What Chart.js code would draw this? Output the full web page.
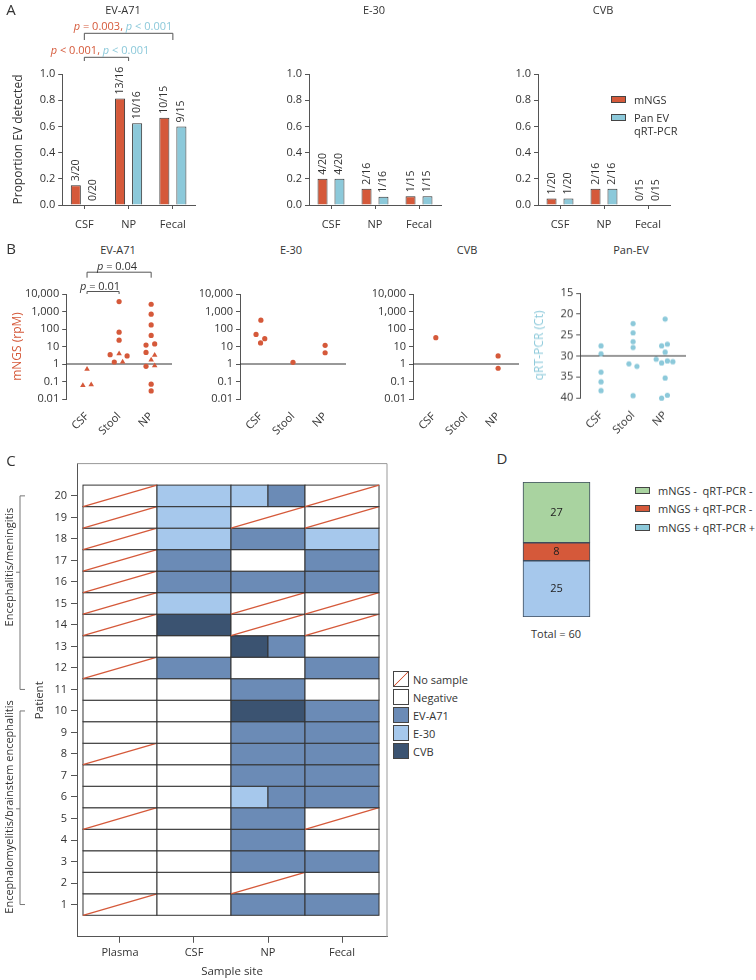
<!DOCTYPE html>
<html>
<head>
<meta charset="utf-8">
<script src="https://cdn.jsdelivr.net/npm/chart.js@4.4.1/dist/chart.umd.min.js"></script>
<style>
  body { margin: 0; background: #fff; }
  #fig { position: relative; width: 756px; height: 980px; overflow: hidden; font-family: "Open Sans", sans-serif; color: #333; }
  #fig canvas { position: absolute; }
  .t { position: absolute; white-space: pre; line-height: 1; transform: translate(-50%, -50%); font-size: 11px; }
  .r { transform: translate(-50%, -50%) rotate(-90deg); }
  .lt { position: absolute; white-space: pre; line-height: 1; transform: translateY(-50%); font-size: 11px; }
  .big { font-size: 15px; }
  .box { position: absolute; box-sizing: border-box; border: 1px solid #444; }
  .or { color: #D5593A; } .cy { color: #8CC9DA; }
</style>
</head>
<body>
<div id="fig">
  <canvas id="a1"></canvas><canvas id="a2"></canvas><canvas id="a3"></canvas>
  <canvas id="b1"></canvas><canvas id="b2"></canvas><canvas id="b3"></canvas><canvas id="b4"></canvas>
  <canvas id="c1"></canvas><canvas id="d1"></canvas>

  <!-- panel letters and titles -->
  <div class="t big" style="left:11px;top:9px">A</div>
  <div class="t big" style="left:11px;top:248px">B</div>
  <div class="t big" style="left:11px;top:460px">C</div>
  <div class="t big" style="left:502px;top:458px">D</div>

  <div class="t" style="left:123px;top:9px">EV-A71</div>
  <div class="t" style="left:374px;top:9px">E-30</div>
  <div class="t" style="left:603px;top:9px">CVB</div>
  <div class="t" style="left:118px;top:249px">EV-A71</div>
  <div class="t" style="left:291px;top:249px">E-30</div>
  <div class="t" style="left:467px;top:249px">CVB</div>
  <div class="t" style="left:631px;top:249px">Pan-EV</div>

  <!-- p values -->
  <div class="t" style="left:123px;top:25px"><span class="or"><i>p</i> = 0.003,</span> <span class="cy"><i>p</i> &lt; 0.001</span></div>
  <div class="t" style="left:100px;top:49px"><span class="or"><i>p</i> &lt; 0.001,</span> <span class="cy"><i>p</i> &lt; 0.001</span></div>
  <div class="t" style="left:117px;top:265px"><i>p</i> = 0.04</div>
  <div class="t" style="left:100px;top:285px"><i>p</i> = 0.01</div>

  <!-- legend A -->
  <div class="box" style="left:611px;top:96px;width:15px;height:7px;background:#D5593A"></div>
  <div class="lt" style="left:634px;top:99px">mNGS</div>
  <div class="box" style="left:611px;top:114px;width:15px;height:7px;background:#8CC9DA"></div>
  <div class="lt" style="left:634px;top:117px">Pan EV</div>
  <div class="lt" style="left:634px;top:130px">qRT-PCR</div>

  <!-- group labels C -->
  <div class="t r" style="left:8px;top:567px">Encephalitis/meningitis</div>
  <div class="t r" style="left:8px;top:807px">Encephalomyelitis/brainstem encephalitis</div>

  <!-- legend C -->
  <div class="box" style="left:393px;top:671px;width:16px;height:16px;background:linear-gradient(to bottom right,transparent calc(50% - 0.8px),#D5593A,transparent calc(50% + 0.8px))"></div>
  <div class="lt" style="left:413px;top:679px">No sample</div>
  <div class="box" style="left:393px;top:689px;width:16px;height:16px;background:#fff"></div>
  <div class="lt" style="left:413px;top:697px">Negative</div>
  <div class="box" style="left:393px;top:707px;width:16px;height:16px;background:#6B8BB6"></div>
  <div class="lt" style="left:413px;top:715px">EV-A71</div>
  <div class="box" style="left:393px;top:725px;width:16px;height:16px;background:#A6C8EC"></div>
  <div class="lt" style="left:413px;top:733px">E-30</div>
  <div class="box" style="left:393px;top:743px;width:16px;height:16px;background:#3B5371"></div>
  <div class="lt" style="left:413px;top:751px">CVB</div>

  <!-- legend D -->
  <div class="box" style="left:635px;top:487px;width:15px;height:7px;background:#A9D3A0"></div>
  <div class="lt" style="left:658px;top:490px">mNGS -  qRT-PCR -</div>
  <div class="box" style="left:635px;top:505px;width:15px;height:7px;background:#D5593A"></div>
  <div class="lt" style="left:658px;top:508px">mNGS + qRT-PCR -</div>
  <div class="box" style="left:635px;top:524px;width:15px;height:7px;background:#8CC9DA"></div>
  <div class="lt" style="left:658px;top:527px">mNGS + qRT-PCR +</div>
  <div class="t" style="left:556px;top:633px">Total = 60</div>
</div>

<script>
// ---- A: proportion of samples with EV detected ----
const sitesA    = ['CSF', 'NP', 'Fecal'];
const nSamples  = [20, 16, 15];
const ev71Mngs  = [3, 13, 10];
const ev71Pcr   = [0, 10, 9];
const e30Mngs   = [4, 2, 1];
const e30Pcr    = [4, 1, 1];
const cvbMngs   = [1, 2, 0];
const cvbPcr    = [1, 2, 0];
const yTicksA   = [0, 0.2, 0.4, 0.6, 0.8, 1.0];

// ---- B: mNGS reads (rpM) and pan-EV Ct ----
const sitesB   = ['CSF', 'Stool', 'NP'];
const logTicks = [0.01, 0.1, 1, 10, 100, 1000, 10000];
const ctTicks  = [15, 20, 25, 30, 35, 40];
const ev71Dots = [
  {x: 2.0, y: 3700}, {x: 2.0, y: 66}, {x: 2.0, y: 23}, {x: 1.72, y: 3.4}, {x: 2.25, y: 2.9}, {x: 1.85, y: 1.3},
  {x: 3.0, y: 2600}, {x: 3.0, y: 700}, {x: 3.0, y: 170}, {x: 3.0, y: 43}, {x: 2.84, y: 12}, {x: 3.11, y: 14},
  {x: 2.84, y: 4.6}, {x: 2.84, y: 0.74}, {x: 3.0, y: 0.07}, {x: 3.0, y: 0.029}
];
const ev71Tri = [
  {x: 1.0, y: 0.5}, {x: 0.87, y: 0.06}, {x: 1.13, y: 0.065},
  {x: 2.0, y: 3.9}, {x: 2.11, y: 1.3},
  {x: 3.11, y: 3.2}, {x: 3.0, y: 1.7}, {x: 3.11, y: 0.8}
];
const e30Dots = [{x: 1.0, y: 320}, {x: 0.85, y: 49}, {x: 1.12, y: 28}, {x: 0.99, y: 16}, {x: 2.0, y: 1.25}, {x: 3.0, y: 11.7}, {x: 3.0, y: 4.4}];
const cvbDots = [{x: 1.06, y: 32}, {x: 3.0, y: 2.9}, {x: 3.0, y: 0.57}];
const panEvDots = [
  {x: 1.0, y: 27.6}, {x: 1.0, y: 29.5}, {x: 1.0, y: 33.9}, {x: 1.0, y: 36.2}, {x: 1.0, y: 38.3},
  {x: 2.0, y: 22.3}, {x: 2.0, y: 24.5}, {x: 2.0, y: 26.6}, {x: 2.0, y: 28.0}, {x: 1.87, y: 31.9}, {x: 2.12, y: 32.5}, {x: 2.0, y: 39.5},
  {x: 3.0, y: 21.2}, {x: 2.89, y: 27.6}, {x: 3.07, y: 27.2}, {x: 3.0, y: 29.1}, {x: 2.72, y: 30.8}, {x: 2.89, y: 31.7},
  {x: 3.07, y: 31.2}, {x: 3.24, y: 31.4}, {x: 3.0, y: 35.3}, {x: 2.89, y: 40.1}, {x: 3.07, y: 39.4}
];

// ---- C: result per patient (1..20) and sample site; N = no sample, - = negative ----
const sampleSites = ['Plasma', 'CSF', 'NP', 'Fecal'];
const plasma = ['N','-','-','-','N','-','-','N','-','-','-','N','-','N','N','N','N','N','N','N'];
const csf    = ['-','-','-','-','-','-','-','-','-','-','-','EV','-','CVB','E30','EV','EV','E30','E30','E30'];
const np     = ['EV','N','EV','EV','EV','E30/EV','EV','EV','EV','CVB','EV','-','CVB/EV','N','N','EV','-','EV','N','E30/EV'];
const fecal  = ['EV','-','EV','-','N','EV','EV','EV','EV','EV','-','EV','-','N','N','EV','EV','E30','N','N'];
const patientTicks = [1,2,3,4,5,6,7,8,9,10,11,12,13,14,15,16,17,18,19,20];
const groups = [{from: 11, to: 20, mid: 16.45}, {from: 1, to: 10, mid: 5.45}];

// ---- D: agreement mNGS vs qRT-PCR (stacked bottom to top) ----
const dLabels = ['mNGS + qRT-PCR +', 'mNGS + qRT-PCR -', 'mNGS -  qRT-PCR -'];
const dCounts = [25, 8, 27];

const ORANGE = '#D5593A', CYAN = '#8CC9DA', AXIS = '#555';
const cellColors = {EV: '#6B8BB6', E30: '#A6C8EC', CVB: '#3B5371', '-': '#fff', N: '#fff'};

Chart.defaults.font.family = '"Open Sans", sans-serif';
Chart.defaults.font.size = 11;
Chart.defaults.color = '#333';
Chart.defaults.animation = false;
Chart.defaults.plugins.legend.display = false;
Chart.defaults.plugins.tooltip.enabled = false;

// put a canvas so that its chart area lands on `area` = [l, t, r, b] (page px)
function place(id, area, m) {
  const cv = document.getElementById(id);
  const w = area[2] - area[0] + m.l + m.r, h = area[3] - area[1] + m.t + m.b;
  cv.width = w; cv.height = h;
  cv.style.left = (area[0] - m.l) + 'px'; cv.style.top = (area[1] - m.t) + 'px';
  cv.style.width = w + 'px'; cv.style.height = h + 'px';
  return cv;
}
function baseOpts(m) {
  return { responsive: false, devicePixelRatio: 1,
           layout: { padding: { left: 0, top: m.t, right: m.r, bottom: 0 }, autoPadding: false } };
}
const axisTitle = (text, color, pad, size) => ({ display: true, text, color: color || '#333', font: { size: size || 12 }, padding: pad || { top: 0, bottom: 0 } });

// ── plugins ────────────────────────────────────────────────────────────
const barLabels = {
  id: 'barLabels',
  afterDatasetsDraw(chart) {
    const ctx = chart.ctx;
    chart.data.datasets.forEach((ds, di) => {
      chart.getDatasetMeta(di).data.forEach((bar, i) => {
        ctx.save();
        ctx.translate(bar.x, bar.y - 4);
        ctx.rotate(-Math.PI / 2);
        ctx.font = '10.5px "Open Sans"';
        ctx.fillStyle = '#333';
        ctx.textAlign = 'left'; ctx.textBaseline = 'middle';
        ctx.fillText(ds.frac[i], 0, 0);
        ctx.restore();
      });
    });
  }
};

const brackets = {
  id: 'brackets',
  afterDraw(chart, args, o) {
    if (!o.items) return;
    const { ctx, chartArea, scales: { x } } = chart;
    ctx.save(); ctx.strokeStyle = AXIS; ctx.lineWidth = 1;
    o.items.forEach(b => {
      const x0 = x.getPixelForValue(b.from), x1 = x.getPixelForValue(b.to), y = chartArea.top + b.dy;
      ctx.beginPath();
      ctx.moveTo(x0, y + b.drop); ctx.lineTo(x0, y); ctx.lineTo(x1, y); ctx.lineTo(x1, y + b.drop);
      ctx.stroke();
    });
    ctx.restore();
  }
};

const heatmap = {
  id: 'heatmap',
  beforeDatasetsDraw(chart) {
    const { ctx, scales: { x, y } } = chart;
    [plasma, csf, np, fecal].forEach((col, c) => {
      col.forEach((code, p) => {
        const x0 = x.getPixelForValue(c + 0.5), x1 = x.getPixelForValue(c + 1.5);
        const yT = y.getPixelForValue(p + 1.5), yB = y.getPixelForValue(p + 0.5);
        const parts = code.split('/');
        const w = (x1 - x0) / parts.length;
        parts.forEach((k, j) => {
          ctx.fillStyle = cellColors[k];
          ctx.fillRect(x0 + j * w, yT, w, yB - yT);
          ctx.strokeStyle = '#333'; ctx.lineWidth = 1;
          ctx.strokeRect(x0 + j * w, yT, w, yB - yT);
        });
        if (code === 'N') {
          ctx.strokeStyle = ORANGE; ctx.lineWidth = 1.3;
          ctx.beginPath(); ctx.moveTo(x0, yB); ctx.lineTo(x1, yT); ctx.stroke();
        }
      });
    });
  },
  afterDraw(chart) {
    const { ctx, chartArea: a, scales: { y } } = chart;
    ctx.save();
    ctx.strokeStyle = '#999'; ctx.lineWidth = 1;
    ctx.beginPath(); ctx.moveTo(a.left, a.top); ctx.lineTo(a.right, a.top); ctx.lineTo(a.right, a.bottom); ctx.stroke();
    ctx.strokeStyle = '#777';
    const bx = a.left - 57;
    groups.forEach(g => {
      const y0 = y.getPixelForValue(g.to), y1 = y.getPixelForValue(g.from), ym = y.getPixelForValue(g.mid);
      ctx.beginPath();
      ctx.moveTo(bx + 5, y0); ctx.lineTo(bx, y0); ctx.lineTo(bx, y1); ctx.lineTo(bx + 5, y1);
      ctx.moveTo(bx, ym); ctx.lineTo(bx - 4, ym);
      ctx.stroke();
    });
    ctx.restore();
  }
};

const segLabels = {
  id: 'segLabels',
  afterDatasetsDraw(chart) {
    const ctx = chart.ctx;
    ctx.save();
    ctx.font = '11px "Open Sans"'; ctx.fillStyle = '#222';
    ctx.textAlign = 'center'; ctx.textBaseline = 'middle';
    chart.data.datasets.forEach((ds, di) => {
      chart.getDatasetMeta(di).data.forEach((bar, i) => {
        ctx.fillText(String(ds.data[i]), bar.x, (bar.y + bar.base) / 2);
      });
    });
    ctx.restore();
  }
};

// ── A: grouped bars ────────────────────────────────────────────────────
function barChart(id, area, m, mngs, pcr, extra) {
  const cv = place(id, area, m);
  const ds = (label, pos, color) => ({
    label, data: pos.map((v, i) => v / nSamples[i]), frac: pos.map((v, i) => v + '/' + nSamples[i]),
    backgroundColor: color, borderColor: '#333', borderWidth: 1, categoryPercentage: 0.77, barPercentage: 0.59
  });
  const opts = baseOpts(m);
  opts.scales = {
    x: { grid: { display: true, offset: false, drawOnChartArea: false, tickLength: 4, color: AXIS },
         border: { color: AXIS }, ticks: { padding: 9 }, afterFit: s => { s.height = m.b; } },
    y: { min: 0, max: 1, afterBuildTicks: s => { s.ticks = yTicksA.map(v => ({ value: v })); },
         ticks: { callback: v => v.toFixed(1), padding: 3 },
         grid: { drawOnChartArea: false, tickLength: 4, color: AXIS }, border: { color: AXIS },
         title: extra.title ? axisTitle(extra.title) : { display: false },
         afterFit: s => { s.width = m.l; } }
  };
  opts.plugins = { brackets: { items: extra.brackets } };
  return new Chart(cv, {
    type: 'bar',
    data: { labels: sitesA, datasets: [ds('mNGS', mngs, ORANGE), ds('Pan EV qRT-PCR', pcr, CYAN)] },
    options: opts,
    plugins: [barLabels, brackets]
  });
}

barChart('a1', [62, 74, 195, 205], { l: 51.2, t: 58, r: 8, b: 30 }, ev71Mngs, ev71Pcr, {
  title: 'Proportion EV detected',
  brackets: [{ from: 0, to: 2, dy: -40.7, drop: 6.7 }, { from: 0, to: 1, dy: -16.7, drop: 3.7 }]
});
barChart('a2', [309, 74, 441, 205], { l: 40, t: 10, r: 8, b: 30 }, e30Mngs, e30Pcr, {});
barChart('a3', [538, 74, 670, 205], { l: 40, t: 10, r: 8, b: 30 }, cvbMngs, cvbPcr, {});

// ── B: strip plots ─────────────────────────────────────────────────────
function dotChart(id, area, m, sets, yAxis, refY, extra) {
  const cv = place(id, area, m);
  const datasets = sets.map(s => ({
    data: s.data, pointStyle: s.tri ? 'triangle' : 'circle', pointRadius: s.tri ? 3.2 : 2.6,
    pointBackgroundColor: s.color, pointBorderWidth: 0, showLine: false, clip: false
  }));
  datasets.push({ data: [{ x: 0.35, y: refY }, { x: 3.65, y: refY }], showLine: true,
                  borderColor: '#333', borderWidth: 1, pointRadius: 0 });
  const opts = baseOpts(m);
  yAxis.grid = { drawOnChartArea: false, tickLength: 4, color: AXIS };
  yAxis.border = { color: AXIS };
  yAxis.afterFit = s => { s.width = m.l; };
  yAxis.title = extra.title ? axisTitle(extra.title, extra.titleColor) : { display: false };
  opts.scales = {
    x: { type: 'linear', min: 0.35, max: 3.65,
         afterBuildTicks: s => { s.ticks = [1, 2, 3].map(v => ({ value: v })); },
         ticks: { callback: v => sitesB[v - 1], minRotation: 45, maxRotation: 45, autoSkip: false, padding: 11 },
         grid: { display: false, drawTicks: false }, border: { display: false },
         afterFit: s => { s.height = m.b; } },
    y: yAxis
  };
  opts.plugins = { brackets: { items: extra.brackets } };
  return new Chart(cv, { type: 'scatter', data: { datasets }, options: opts, plugins: [brackets] });
}
const logAxis = () => ({
  type: 'logarithmic', min: 0.01, max: 10000,
  afterBuildTicks: s => { s.ticks = logTicks.map(v => ({ value: v })); },
  ticks: { autoSkip: false, padding: 3, callback: v => v >= 1 ? v.toLocaleString('en-US') : String(v) }
});

dotChart('b1', [66, 293.5, 172, 399], { l: 56.2, t: 30, r: 6, b: 40 },
  [{ data: ev71Dots, color: ORANGE }, { data: ev71Tri, color: ORANGE, tri: true }], logAxis(), 1,
  { title: 'mNGS (rpM)', titleColor: ORANGE,
    brackets: [{ from: 1, to: 3, dy: -21.8, drop: 5.5 }, { from: 1, to: 2, dy: -2.5, drop: 2.5 }] });
dotChart('b2', [240, 293.5, 346, 399], { l: 40, t: 10, r: 6, b: 40 },
  [{ data: e30Dots, color: ORANGE }], logAxis(), 1, {});
dotChart('b3', [413, 293.5, 519, 399], { l: 40, t: 10, r: 6, b: 40 },
  [{ data: cvbDots, color: ORANGE }], logAxis(), 1, {});
dotChart('b4', [580, 293.3, 686, 397.7], { l: 48.2, t: 10, r: 6, b: 42 },
  [{ data: panEvDots, color: CYAN }],
  { type: 'linear', reverse: true, min: 15, max: 40,
    afterBuildTicks: s => { s.ticks = ctTicks.map(v => ({ value: v })); },
    ticks: { autoSkip: false, padding: 3 } }, 30,
  { title: 'qRT-PCR (Ct)', titleColor: CYAN });

// ── C: patient x sample site grid ─────────────────────────────────────
(function () {
  const m = { l: 75, t: 4, r: 4, b: 42.2 };
  const cv = place('c1', [77, 457, 387, 937], m);
  const opts = baseOpts(m);
  opts.scales = {
    x: { type: 'linear', min: 0.419, max: 4.608,
         afterBuildTicks: s => { s.ticks = [1, 2, 3, 4].map(v => ({ value: v })); },
         ticks: { callback: v => sampleSites[v - 1], autoSkip: false, padding: 3, maxRotation: 0 },
         grid: { drawOnChartArea: false, tickLength: 6, color: AXIS }, border: { color: AXIS },
         title: axisTitle('Sample site', null, null, 11.5), afterFit: s => { s.height = m.b; } },
    y: { type: 'linear', min: -0.5, max: 21.5,
         afterBuildTicks: s => { s.ticks = patientTicks.map(v => ({ value: v })); },
         ticks: { autoSkip: false, padding: 4 },
         grid: { drawOnChartArea: false, tickLength: 6, color: AXIS }, border: { color: AXIS },
         title: axisTitle('Patient', null, { top: 31, bottom: 0 }, 11.5), afterFit: s => { s.width = m.l; } }
  };
  new Chart(cv, { type: 'scatter', data: { datasets: [{ data: [] }] }, options: opts, plugins: [heatmap] });
})();

// ── D: stacked agreement bar ───────────────────────────────────────────
(function () {
  const cv = place('d1', [500, 482, 613, 617], { l: 2, t: 2, r: 2, b: 2 });
  const colors = ['#A6C8EC', ORANGE, '#A9D3A0'];
  new Chart(cv, {
    type: 'bar',
    data: { labels: ['Total'], datasets: dCounts.map((v, i) => ({
      label: dLabels[i], data: [v], backgroundColor: colors[i], borderColor: '#3d4b5c',
      borderWidth: 1, borderSkipped: false, barThickness: 67 })) },
    options: { responsive: false, devicePixelRatio: 1,
      layout: { padding: 2, autoPadding: false },
      scales: { x: { display: false, stacked: true }, y: { display: false, stacked: true, min: 0, max: 60 } } },
    plugins: [segLabels]
  });
})();
</script>
</body>
</html>
